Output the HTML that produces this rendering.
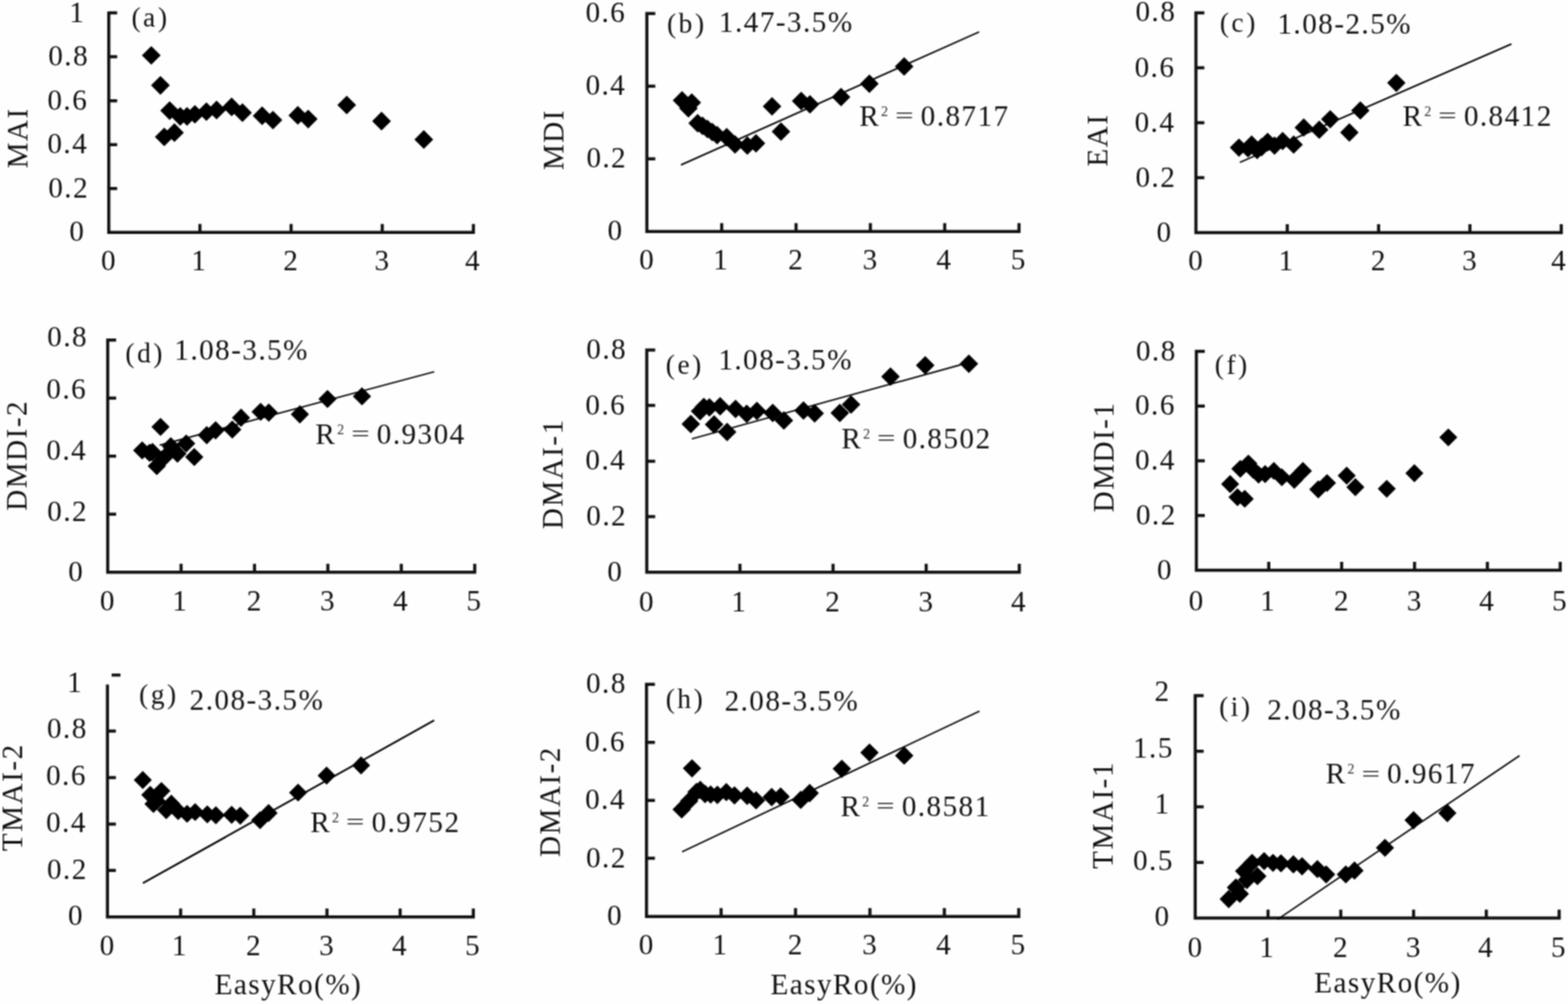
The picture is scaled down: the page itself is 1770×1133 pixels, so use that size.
<!DOCTYPE html>
<html><head><meta charset="utf-8"><title>Figure</title>
<style>html,body{margin:0;padding:0;background:#fff;}svg{display:block;}text{fill:#111;}</style></head>
<body><svg width="1770" height="1133" viewBox="0 0 1770 1133" font-family="'Liberation Serif', 'Times New Roman', serif">
<defs><filter id="soft" filterUnits="userSpaceOnUse" x="0" y="0" width="1770" height="1133" color-interpolation-filters="sRGB"><feConvolveMatrix order="3" kernelMatrix="1 2 1 2 4 2 1 2 1" divisor="16" edgeMode="duplicate"/></filter></defs>
<g filter="url(#soft)">
<rect width="1770" height="1133" fill="#fefefe"/>
<path d="M122.8 12.9V262.3H536.1M225.7 262.3V252.8M328.6 262.3V252.8M431.5 262.3V252.8M534.4 262.3V252.8M122.8 212.8H132.3M122.8 163.2H132.3M122.8 113.7H132.3M122.8 64.1H132.3M122.8 14.6H132.3" fill="none" stroke="#111" stroke-width="3.5"/>
<path d="M170.8 51.9L181.4 62.5L170.8 73.1L160.2 62.5ZM181.1 85.7L191.7 96.3L181.1 106.9L170.5 96.3ZM185.4 143.9L196.0 154.5L185.4 165.1L174.8 154.5ZM191.5 114.2L202.1 124.8L191.5 135.4L180.9 124.8ZM196.9 139.1L207.5 149.7L196.9 160.3L186.3 149.7ZM203.4 120.7L214.0 131.3L203.4 141.9L192.8 131.3ZM211.1 120.7L221.7 131.3L211.1 141.9L200.5 131.3ZM220.0 118.4L230.6 129.0L220.0 139.6L209.4 129.0ZM233.0 115.4L243.6 126.0L233.0 136.6L222.4 126.0ZM244.5 113.6L255.1 124.2L244.5 134.8L233.9 124.2ZM261.5 110.1L272.1 120.7L261.5 131.3L250.9 120.7ZM273.7 116.6L284.3 127.2L273.7 137.8L263.1 127.2ZM295.9 120.1L306.5 130.7L295.9 141.3L285.3 130.7ZM308.1 124.9L318.7 135.5L308.1 146.1L297.5 135.5ZM336.2 119.6L346.8 130.2L336.2 140.8L325.6 130.2ZM347.9 123.7L358.5 134.3L347.9 144.9L337.3 134.3ZM391.4 107.9L402.0 118.5L391.4 129.1L380.8 118.5ZM430.7 126.1L441.3 136.7L430.7 147.3L420.1 136.7ZM478.4 146.8L489.0 157.4L478.4 168.0L467.8 157.4Z" fill="#000"/>
<text x="78.3" y="272.3" font-size="33" letter-spacing="1.6">0</text>
<text x="54.5" y="222.8" font-size="33" letter-spacing="1.6">0.2</text>
<text x="53.5" y="173.2" font-size="33" letter-spacing="1.6">0.4</text>
<text x="53.5" y="123.7" font-size="33" letter-spacing="1.6">0.6</text>
<text x="54.5" y="74.1" font-size="33" letter-spacing="1.6">0.8</text>
<text x="78.3" y="24.6" font-size="33" letter-spacing="1.6">1</text>
<text x="114.0" y="304.5" font-size="33" letter-spacing="1.6">0</text>
<text x="215.9" y="304.5" font-size="33" letter-spacing="1.6">1</text>
<text x="319.8" y="304.5" font-size="33" letter-spacing="1.6">2</text>
<text x="422.7" y="304.5" font-size="33" letter-spacing="1.6">3</text>
<text x="525.1" y="304.5" font-size="33" letter-spacing="1.6">4</text>
<text x="148.5" y="30.1" font-size="31" letter-spacing="2.8">(a)</text>
<text transform="translate(31.0,156.6) rotate(-90)" x="-33.5" y="0" font-size="33" letter-spacing="1.6">MAI</text>
<path d="M730.2 13.6V261.3H1152.0M814.7 261.3V251.8M898.6 261.3V251.8M982.5 261.3V251.8M1066.4 261.3V251.8M1150.3 261.3V251.8M730.2 179.3H739.7M730.2 97.3H739.7M730.2 15.3H739.7" fill="none" stroke="#111" stroke-width="3.5"/>
<path d="M768.7 186.1L1105.3 36.0" stroke="#000" stroke-width="1.7"/>
<path d="M769.9 102.8L780.4 113.3L769.9 123.8L759.4 113.3ZM780.9 105.3L791.4 115.8L780.9 126.3L770.4 115.8ZM777.1 111.7L787.6 122.2L777.1 132.7L766.6 122.2ZM787.5 128.5L798.0 139.0L787.5 149.5L777.0 139.0ZM793.0 131.5L803.5 142.0L793.0 152.5L782.5 142.0ZM798.5 135.0L809.0 145.5L798.5 156.0L788.0 145.5ZM804.0 138.5L814.5 149.0L804.0 159.5L793.5 149.0ZM809.5 142.0L820.0 152.5L809.5 163.0L799.0 152.5ZM820.3 144.3L830.8 154.8L820.3 165.3L809.8 154.8ZM829.7 152.4L840.2 162.9L829.7 173.4L819.2 162.9ZM843.6 153.7L854.1 164.2L843.6 174.7L833.1 164.2ZM853.4 151.3L863.9 161.8L853.4 172.3L842.9 161.8ZM871.5 109.6L882.0 120.1L871.5 130.6L861.0 120.1ZM881.6 138.0L892.1 148.5L881.6 159.0L871.1 148.5ZM904.4 103.5L914.9 114.0L904.4 124.5L893.9 114.0ZM914.3 107.3L924.8 117.8L914.3 128.3L903.8 117.8ZM949.4 98.9L959.9 109.4L949.4 119.9L938.9 109.4ZM981.4 84.1L991.9 94.6L981.4 105.1L970.9 94.6ZM1020.6 64.6L1031.1 75.1L1020.6 85.6L1010.1 75.1Z" fill="#000"/>
<text x="685.7" y="271.3" font-size="33" letter-spacing="1.6">0</text>
<text x="661.9" y="189.3" font-size="33" letter-spacing="1.6">0.2</text>
<text x="660.9" y="107.3" font-size="33" letter-spacing="1.6">0.4</text>
<text x="660.9" y="25.3" font-size="33" letter-spacing="1.6">0.6</text>
<text x="721.4" y="304.0" font-size="33" letter-spacing="1.6">0</text>
<text x="804.9" y="304.0" font-size="33" letter-spacing="1.6">1</text>
<text x="889.8" y="304.0" font-size="33" letter-spacing="1.6">2</text>
<text x="973.7" y="304.0" font-size="33" letter-spacing="1.6">3</text>
<text x="1057.1" y="304.0" font-size="33" letter-spacing="1.6">4</text>
<text x="1141.0" y="304.0" font-size="33" letter-spacing="1.6">5</text>
<text x="753.0" y="37.0" font-size="31" letter-spacing="2.8">(b)</text>
<text x="811.6" y="36.3" font-size="33" letter-spacing="1.6">1.47-3.5%</text>
<text x="970.1" y="141.6" font-size="33" letter-spacing="1.6">R</text>
<text x="994.6" y="130.6" font-size="16" style="fill:#333">2</text>
<text transform="translate(1010.4,130.1) scale(1.12,0.75)" x="0" y="11.5" font-size="33">=</text>
<text x="1039.3" y="141.6" font-size="33" letter-spacing="1.6">0.8717</text>
<text transform="translate(636.3,158.6) rotate(-90)" x="-33.5" y="0" font-size="33" letter-spacing="1.6">MDI</text>
<path d="M1350.0 12.7V262.6H1764.2M1453.1 262.6V253.1M1556.2 262.6V253.1M1659.3 262.6V253.1M1762.4 262.6V253.1M1350.0 200.6H1359.5M1350.0 138.5H1359.5M1350.0 76.5H1359.5M1350.0 14.4H1359.5" fill="none" stroke="#111" stroke-width="3.5"/>
<path d="M1399.6 183.3L1706.2 49.6" stroke="#000" stroke-width="1.7"/>
<path d="M1398.6 156.2L1409.0 166.6L1398.6 177.0L1388.2 166.6ZM1408.8 157.0L1419.2 167.4L1408.8 177.8L1398.4 167.4ZM1412.9 152.8L1423.3 163.2L1412.9 173.6L1402.5 163.2ZM1419.1 158.9L1429.5 169.3L1419.1 179.7L1408.7 169.3ZM1424.2 155.6L1434.6 166.0L1424.2 176.4L1413.8 166.0ZM1430.9 149.7L1441.3 160.1L1430.9 170.5L1420.5 160.1ZM1438.7 153.9L1449.1 164.3L1438.7 174.7L1428.3 164.3ZM1447.9 148.8L1458.3 159.2L1447.9 169.6L1437.5 159.2ZM1460.3 152.8L1470.7 163.2L1460.3 173.6L1449.9 163.2ZM1471.7 133.5L1482.1 143.9L1471.7 154.3L1461.3 143.9ZM1489.2 136.0L1499.6 146.4L1489.2 156.8L1478.8 146.4ZM1501.6 124.2L1512.0 134.6L1501.6 145.0L1491.2 134.6ZM1523.2 139.1L1533.6 149.5L1523.2 159.9L1512.8 149.5ZM1535.6 114.3L1546.0 124.7L1535.6 135.1L1525.2 124.7ZM1576.2 83.2L1586.6 93.6L1576.2 104.0L1565.8 93.6Z" fill="#000"/>
<text x="1305.5" y="272.6" font-size="33" letter-spacing="1.6">0</text>
<text x="1281.7" y="210.6" font-size="33" letter-spacing="1.6">0.2</text>
<text x="1280.7" y="148.5" font-size="33" letter-spacing="1.6">0.4</text>
<text x="1280.7" y="86.5" font-size="33" letter-spacing="1.6">0.6</text>
<text x="1281.7" y="24.4" font-size="33" letter-spacing="1.6">0.8</text>
<text x="1341.2" y="304.5" font-size="33" letter-spacing="1.6">0</text>
<text x="1443.3" y="304.5" font-size="33" letter-spacing="1.6">1</text>
<text x="1547.4" y="304.5" font-size="33" letter-spacing="1.6">2</text>
<text x="1650.5" y="304.5" font-size="33" letter-spacing="1.6">3</text>
<text x="1750.9" y="304.5" font-size="33" letter-spacing="1.6">4</text>
<text x="1377.0" y="36.2" font-size="31" letter-spacing="2.8">(c)</text>
<text x="1442.0" y="38.0" font-size="33" letter-spacing="1.6">1.08-2.5%</text>
<text x="1583.2" y="141.6" font-size="33" letter-spacing="1.6">R</text>
<text x="1607.7" y="130.6" font-size="16" style="fill:#333">2</text>
<text transform="translate(1623.5,130.1) scale(1.12,0.75)" x="0" y="11.5" font-size="33">=</text>
<text x="1652.4" y="141.6" font-size="33" letter-spacing="1.6">0.8412</text>
<text transform="translate(1250.3,159.0) rotate(-90)" x="-29.0" y="0" font-size="33" letter-spacing="1.6">EAI</text>
<path d="M121.6 382.0V645.8H537.6M204.4 645.8V636.3M287.3 645.8V636.3M370.1 645.8V636.3M453.0 645.8V636.3M535.9 645.8V636.3M121.6 580.3H131.1M121.6 514.8H131.1M121.6 449.3H131.1M121.6 383.8H131.1" fill="none" stroke="#111" stroke-width="3.5"/>
<path d="M180.3 502.4L490.2 419.5" stroke="#000" stroke-width="1.7"/>
<path d="M160.5 497.9L170.8 508.2L160.5 518.5L150.2 508.2ZM168.8 500.7L179.1 511.0L168.8 521.3L158.5 511.0ZM172.1 499.7L182.4 510.0L172.1 520.3L161.8 510.0ZM177.0 515.6L187.3 525.9L177.0 536.2L166.7 525.9ZM181.2 471.5L191.5 481.8L181.2 492.1L170.9 481.8ZM186.6 504.7L196.9 515.0L186.6 525.3L176.3 515.0ZM192.8 493.2L203.1 503.5L192.8 513.8L182.5 503.5ZM200.3 501.6L210.6 511.9L200.3 522.2L190.0 511.9ZM210.2 490.2L220.5 500.5L210.2 510.8L199.9 500.5ZM219.3 505.4L229.6 515.7L219.3 526.0L209.0 515.7ZM233.4 480.8L243.7 491.1L233.4 501.4L223.1 491.1ZM243.4 475.3L253.7 485.6L243.4 495.9L233.1 485.6ZM262.2 474.4L272.5 484.7L262.2 495.0L251.9 484.7ZM272.1 461.1L282.4 471.4L272.1 481.7L261.8 471.4ZM294.2 454.5L304.5 464.8L294.2 475.1L283.9 464.8ZM303.4 455.3L313.7 465.6L303.4 475.9L293.1 465.6ZM338.5 457.3L348.8 467.6L338.5 477.9L328.2 467.6ZM369.7 440.0L380.0 450.3L369.7 460.6L359.4 450.3ZM408.6 437.0L418.9 447.3L408.6 457.6L398.3 447.3Z" fill="#000"/>
<text x="77.1" y="655.6" font-size="33" letter-spacing="1.6">0</text>
<text x="53.3" y="588.3" font-size="33" letter-spacing="1.6">0.2</text>
<text x="52.3" y="518.5" font-size="33" letter-spacing="1.6">0.4</text>
<text x="52.3" y="449.9" font-size="33" letter-spacing="1.6">0.6</text>
<text x="53.3" y="390.9" font-size="33" letter-spacing="1.6">0.8</text>
<text x="112.8" y="688.7" font-size="33" letter-spacing="1.6">0</text>
<text x="194.6" y="688.7" font-size="33" letter-spacing="1.6">1</text>
<text x="278.5" y="688.7" font-size="33" letter-spacing="1.6">2</text>
<text x="361.3" y="688.7" font-size="33" letter-spacing="1.6">3</text>
<text x="443.7" y="688.7" font-size="33" letter-spacing="1.6">4</text>
<text x="526.6" y="688.7" font-size="33" letter-spacing="1.6">5</text>
<text x="141.6" y="409.3" font-size="31" letter-spacing="2.8">(d)</text>
<text x="196.8" y="405.5" font-size="33" letter-spacing="1.6">1.08-3.5%</text>
<text x="356.1" y="500.8" font-size="33" letter-spacing="1.6">R</text>
<text x="380.6" y="489.8" font-size="16" style="fill:#333">2</text>
<text transform="translate(396.4,489.3) scale(1.12,0.75)" x="0" y="11.5" font-size="33">=</text>
<text x="425.3" y="500.8" font-size="33" letter-spacing="1.6">0.9304</text>
<text transform="translate(30.2,515.0) rotate(-90)" x="-61.5" y="0" font-size="33" letter-spacing="1.6">DMDI-2</text>
<path d="M730.1 393.2V645.8H1152.3M835.3 645.8V636.3M940.4 645.8V636.3M1045.5 645.8V636.3M1150.6 645.8V636.3M730.1 583.1H739.6M730.1 520.4H739.6M730.1 457.6H739.6M730.1 394.9H739.6" fill="none" stroke="#111" stroke-width="3.5"/>
<path d="M781.0 495.3L1084.5 411.6" stroke="#000" stroke-width="1.7"/>
<path d="M779.8 467.9L790.3 478.4L779.8 488.9L769.3 478.4ZM790.3 453.5L800.8 464.0L790.3 474.5L779.8 464.0ZM794.5 448.7L805.0 459.2L794.5 469.7L784.0 459.2ZM800.8 449.3L811.3 459.8L800.8 470.3L790.3 459.8ZM806.1 468.5L816.6 479.0L806.1 489.5L795.6 479.0ZM812.9 448.1L823.4 458.6L812.9 469.1L802.4 458.6ZM820.8 477.0L831.3 487.5L820.8 498.0L810.3 487.5ZM830.3 451.0L840.8 461.5L830.3 472.0L819.8 461.5ZM842.9 456.6L853.4 467.1L842.9 477.6L832.4 467.1ZM854.4 453.2L864.9 463.7L854.4 474.2L843.9 463.7ZM872.3 455.5L882.8 466.0L872.3 476.5L861.8 466.0ZM884.9 464.0L895.4 474.5L884.9 485.0L874.4 474.5ZM907.0 452.7L917.5 463.2L907.0 473.7L896.5 463.2ZM919.6 456.1L930.1 466.6L919.6 477.1L909.1 466.6ZM948.0 455.5L958.5 466.0L948.0 476.5L937.5 466.0ZM960.7 446.1L971.2 456.6L960.7 467.1L950.2 456.6ZM1005.2 414.5L1015.7 425.0L1005.2 435.5L994.7 425.0ZM1044.4 401.7L1054.9 412.2L1044.4 422.7L1033.9 412.2ZM1093.7 400.1L1104.2 410.6L1093.7 421.1L1083.2 410.6Z" fill="#000"/>
<text x="685.6" y="655.8" font-size="33" letter-spacing="1.6">0</text>
<text x="661.8" y="593.1" font-size="33" letter-spacing="1.6">0.2</text>
<text x="660.8" y="530.4" font-size="33" letter-spacing="1.6">0.4</text>
<text x="660.8" y="467.6" font-size="33" letter-spacing="1.6">0.6</text>
<text x="661.8" y="404.9" font-size="33" letter-spacing="1.6">0.8</text>
<text x="721.3" y="689.5" font-size="33" letter-spacing="1.6">0</text>
<text x="825.5" y="689.5" font-size="33" letter-spacing="1.6">1</text>
<text x="931.6" y="689.5" font-size="33" letter-spacing="1.6">2</text>
<text x="1036.7" y="689.5" font-size="33" letter-spacing="1.6">3</text>
<text x="1141.3" y="689.5" font-size="33" letter-spacing="1.6">4</text>
<text x="751.6" y="421.8" font-size="31" letter-spacing="2.8">(e)</text>
<text x="810.9" y="416.9" font-size="33" letter-spacing="1.6">1.08-3.5%</text>
<text x="949.7" y="506.3" font-size="33" letter-spacing="1.6">R</text>
<text x="974.2" y="495.3" font-size="16" style="fill:#333">2</text>
<text transform="translate(990.0,494.8) scale(1.12,0.75)" x="0" y="11.5" font-size="33">=</text>
<text x="1018.9" y="506.3" font-size="33" letter-spacing="1.6">0.8502</text>
<text transform="translate(634.6,535.8) rotate(-90)" x="-61.5" y="0" font-size="33" letter-spacing="1.6">DMAI-1</text>
<path d="M1350.5 394.8V643.6H1763.0M1432.2 643.6V634.1M1514.5 643.6V634.1M1596.8 643.6V634.1M1679.0 643.6V634.1M1761.2 643.6V634.1M1350.5 581.7H1360.0M1350.5 520.0H1360.0M1350.5 458.3H1360.0M1350.5 396.6H1360.0" fill="none" stroke="#111" stroke-width="3.5"/>
<path d="M1388.6 536.1L1398.8 546.3L1388.6 556.5L1378.4 546.3ZM1396.9 550.9L1407.1 561.1L1396.9 571.3L1386.7 561.1ZM1400.1 518.9L1410.3 529.1L1400.1 539.3L1389.9 529.1ZM1405.1 552.7L1415.3 562.9L1405.1 573.1L1394.9 562.9ZM1409.2 512.9L1419.4 523.1L1409.2 533.3L1399.0 523.1ZM1414.5 519.8L1424.7 530.0L1414.5 540.2L1404.3 530.0ZM1420.7 525.4L1430.9 535.6L1420.7 545.8L1410.5 535.6ZM1428.1 524.8L1438.3 535.0L1428.1 545.2L1417.9 535.0ZM1438.0 521.2L1448.2 531.4L1438.0 541.6L1427.8 531.4ZM1447.0 528.4L1457.2 538.6L1447.0 548.8L1436.8 538.6ZM1461.0 531.3L1471.2 541.5L1461.0 551.7L1450.8 541.5ZM1470.8 521.2L1481.0 531.4L1470.8 541.6L1460.6 531.4ZM1488.1 542.0L1498.3 552.2L1488.1 562.4L1477.9 552.2ZM1498.0 534.9L1508.2 545.1L1498.0 555.3L1487.8 545.1ZM1520.2 526.6L1530.4 536.8L1520.2 547.0L1510.0 536.8ZM1530.0 539.6L1540.2 549.8L1530.0 560.0L1519.8 549.8ZM1565.4 541.4L1575.6 551.6L1565.4 561.8L1555.2 551.6ZM1596.6 523.8L1606.8 534.0L1596.6 544.2L1586.4 534.0ZM1634.9 483.4L1645.1 493.6L1634.9 503.8L1624.7 493.6Z" fill="#000"/>
<text x="1306.0" y="653.6" font-size="33" letter-spacing="1.6">0</text>
<text x="1282.2" y="591.7" font-size="33" letter-spacing="1.6">0.2</text>
<text x="1281.2" y="530.0" font-size="33" letter-spacing="1.6">0.4</text>
<text x="1281.2" y="468.3" font-size="33" letter-spacing="1.6">0.6</text>
<text x="1282.2" y="406.6" font-size="33" letter-spacing="1.6">0.8</text>
<text x="1341.7" y="689.0" font-size="33" letter-spacing="1.6">0</text>
<text x="1422.5" y="689.0" font-size="33" letter-spacing="1.6">1</text>
<text x="1505.7" y="689.0" font-size="33" letter-spacing="1.6">2</text>
<text x="1588.0" y="689.0" font-size="33" letter-spacing="1.6">3</text>
<text x="1669.7" y="689.0" font-size="33" letter-spacing="1.6">4</text>
<text x="1752.0" y="689.0" font-size="33" letter-spacing="1.6">5</text>
<text x="1371.3" y="422.0" font-size="31" letter-spacing="2.8">(f)</text>
<text transform="translate(1257.1,516.8) rotate(-90)" x="-61.5" y="0" font-size="33" letter-spacing="1.6">DMDI-1</text>
<path d="M121.3 772.5V1034.8H536.0M203.9 1034.8V1025.3M286.5 1034.8V1025.3M369.1 1034.8V1025.3M451.7 1034.8V1025.3M534.3 1034.8V1025.3M121.3 982.3H130.8M121.3 929.9H130.8M121.3 877.4H130.8M121.3 825.0H130.8" fill="none" stroke="#111" stroke-width="3.5"/>
<path d="M126 761.8H136" stroke="#111" stroke-width="3.4"/>
<path d="M161.3 996.7L490.1 812.8" stroke="#000" stroke-width="2.1"/>
<path d="M161.2 870.1L171.4 880.3L161.2 890.5L151.0 880.3ZM169.6 886.8L179.8 897.0L169.6 907.2L159.4 897.0ZM173.2 897.0L183.4 907.2L173.2 917.4L163.0 907.2ZM177.0 893.8L187.2 904.0L177.0 914.2L166.8 904.0ZM182.2 882.4L192.4 892.6L182.2 902.8L172.0 892.6ZM187.7 904.1L197.9 914.3L187.7 924.5L177.5 914.3ZM193.4 896.7L203.6 906.9L193.4 917.1L183.2 906.9ZM201.1 905.1L211.3 915.3L201.1 925.5L190.9 915.3ZM211.2 908.2L221.4 918.4L211.2 928.6L201.0 918.4ZM220.3 906.2L230.5 916.4L220.3 926.6L210.1 916.4ZM234.0 908.8L244.2 919.0L234.0 929.2L223.8 919.0ZM243.7 909.8L253.9 920.0L243.7 930.2L233.5 920.0ZM261.5 909.3L271.7 919.5L261.5 929.7L251.3 919.5ZM271.2 910.3L281.4 920.5L271.2 930.7L261.0 920.5ZM293.6 915.4L303.8 925.6L293.6 935.8L283.4 925.6ZM303.2 907.3L313.4 917.5L303.2 927.7L293.0 917.5ZM336.5 884.2L346.7 894.4L336.5 904.6L326.3 894.4ZM368.7 865.1L378.9 875.3L368.7 885.5L358.5 875.3ZM407.6 853.6L417.8 863.8L407.6 874.0L397.4 863.8Z" fill="#000"/>
<text x="76.8" y="1044.0" font-size="33" letter-spacing="1.6">0</text>
<text x="53.0" y="991.5" font-size="33" letter-spacing="1.6">0.2</text>
<text x="52.0" y="938.7" font-size="33" letter-spacing="1.6">0.4</text>
<text x="52.0" y="886.1" font-size="33" letter-spacing="1.6">0.6</text>
<text x="53.0" y="832.7" font-size="33" letter-spacing="1.6">0.8</text>
<text x="75.8" y="780.5" font-size="33" letter-spacing="1.6">1</text>
<text x="112.5" y="1077.7" font-size="33" letter-spacing="1.6">0</text>
<text x="194.1" y="1077.7" font-size="33" letter-spacing="1.6">1</text>
<text x="277.7" y="1077.7" font-size="33" letter-spacing="1.6">2</text>
<text x="360.3" y="1077.7" font-size="33" letter-spacing="1.6">3</text>
<text x="442.4" y="1077.7" font-size="33" letter-spacing="1.6">4</text>
<text x="525.0" y="1077.7" font-size="33" letter-spacing="1.6">5</text>
<text x="157.1" y="794.0" font-size="31" letter-spacing="2.8">(g)</text>
<text x="214.1" y="800.7" font-size="33" letter-spacing="1.6">2.08-3.5%</text>
<text x="350.2" y="939.3" font-size="33" letter-spacing="1.6">R</text>
<text x="374.7" y="928.3" font-size="16" style="fill:#333">2</text>
<text transform="translate(390.5,927.8) scale(1.12,0.75)" x="0" y="11.5" font-size="33">=</text>
<text x="419.4" y="939.3" font-size="33" letter-spacing="1.6">0.9752</text>
<text transform="translate(24.5,901.4) rotate(-90)" x="-59.0" y="0" font-size="33" letter-spacing="1.6">TMAI-2</text>
<path d="M729.8 770.5V1034.2H1151.8M814.0 1034.2V1024.7M898.0 1034.2V1024.7M982.0 1034.2V1024.7M1066.0 1034.2V1024.7M1150.0 1034.2V1024.7M729.8 968.6H739.3M729.8 903.2H739.3M729.8 837.7H739.3M729.8 772.3H739.3" fill="none" stroke="#111" stroke-width="3.5"/>
<path d="M770.0 961.3L1105.7 802.4" stroke="#000" stroke-width="1.7"/>
<path d="M769.5 903.0L779.9 913.4L769.5 923.8L759.1 913.4ZM777.9 893.5L788.3 903.9L777.9 914.3L767.5 903.9ZM781.2 856.7L791.6 867.1L781.2 877.5L770.8 867.1ZM786.3 883.3L796.7 893.7L786.3 904.1L775.9 893.7ZM790.5 881.0L800.9 891.4L790.5 901.8L780.1 891.4ZM795.9 885.6L806.3 896.0L795.9 906.4L785.5 896.0ZM802.2 886.2L812.6 896.6L802.2 907.0L791.8 896.6ZM809.8 886.6L820.2 897.0L809.8 907.4L799.4 897.0ZM819.9 883.5L830.3 893.9L819.9 904.3L809.5 893.9ZM829.1 887.2L839.5 897.6L829.1 908.0L818.7 897.6ZM843.4 887.6L853.8 898.0L843.4 908.4L833.0 898.0ZM853.5 892.8L863.9 903.2L853.5 913.6L843.1 903.2ZM871.1 889.1L881.5 899.5L871.1 909.9L860.7 899.5ZM881.2 888.6L891.6 899.0L881.2 909.4L870.8 899.0ZM903.9 892.3L914.3 902.7L903.9 913.1L893.5 902.7ZM914.0 884.6L924.4 895.0L914.0 905.4L903.6 895.0ZM950.3 857.2L960.7 867.6L950.3 878.0L939.9 867.6ZM981.5 838.9L991.9 849.3L981.5 859.7L971.1 849.3ZM1020.7 842.3L1031.1 852.7L1020.7 863.1L1010.3 852.7Z" fill="#000"/>
<text x="685.3" y="1044.2" font-size="33" letter-spacing="1.6">0</text>
<text x="661.5" y="978.6" font-size="33" letter-spacing="1.6">0.2</text>
<text x="660.5" y="913.2" font-size="33" letter-spacing="1.6">0.4</text>
<text x="660.5" y="847.7" font-size="33" letter-spacing="1.6">0.6</text>
<text x="661.5" y="782.3" font-size="33" letter-spacing="1.6">0.8</text>
<text x="721.0" y="1077.3" font-size="33" letter-spacing="1.6">0</text>
<text x="804.2" y="1077.3" font-size="33" letter-spacing="1.6">1</text>
<text x="889.2" y="1077.3" font-size="33" letter-spacing="1.6">2</text>
<text x="973.2" y="1077.3" font-size="33" letter-spacing="1.6">3</text>
<text x="1056.7" y="1077.3" font-size="33" letter-spacing="1.6">4</text>
<text x="1140.7" y="1077.3" font-size="33" letter-spacing="1.6">5</text>
<text x="751.5" y="799.0" font-size="31" letter-spacing="2.8">(h)</text>
<text x="817.9" y="801.5" font-size="33" letter-spacing="1.6">2.08-3.5%</text>
<text x="948.7" y="921.3" font-size="33" letter-spacing="1.6">R</text>
<text x="973.2" y="910.3" font-size="16" style="fill:#333">2</text>
<text transform="translate(989.0,909.8) scale(1.12,0.75)" x="0" y="11.5" font-size="33">=</text>
<text x="1017.9" y="921.3" font-size="33" letter-spacing="1.6">0.8581</text>
<text transform="translate(632.3,905.7) rotate(-90)" x="-61.5" y="0" font-size="33" letter-spacing="1.6">DMAI-2</text>
<path d="M1349.2 783.3V1036.0H1761.8M1431.4 1036.0V1026.5M1513.5 1036.0V1026.5M1595.7 1036.0V1026.5M1677.8 1036.0V1026.5M1760.0 1036.0V1026.5M1349.2 973.3H1358.7M1349.2 910.5H1358.7M1349.2 847.8H1358.7M1349.2 785.1H1358.7" fill="none" stroke="#111" stroke-width="3.5"/>
<path d="M1442.0 1037.6L1715.3 852.7" stroke="#000" stroke-width="1.7"/>
<path d="M1387.0 1004.3L1397.3 1014.6L1387.0 1024.9L1376.7 1014.6ZM1395.1 991.3L1405.4 1001.6L1395.1 1011.9L1384.8 1001.6ZM1399.6 998.4L1409.9 1008.7L1399.6 1019.0L1389.3 1008.7ZM1404.4 972.8L1414.7 983.1L1404.4 993.4L1394.1 983.1ZM1407.5 982.8L1417.8 993.1L1407.5 1003.4L1397.2 993.1ZM1413.4 963.5L1423.7 973.8L1413.4 984.1L1403.1 973.8ZM1419.4 978.5L1429.7 988.8L1419.4 999.1L1409.1 988.8ZM1427.0 961.5L1437.3 971.8L1427.0 982.1L1416.7 971.8ZM1437.0 963.5L1447.3 973.8L1437.0 984.1L1426.7 973.8ZM1446.0 964.0L1456.3 974.3L1446.0 984.6L1435.7 974.3ZM1460.0 965.1L1470.3 975.4L1460.0 985.7L1449.7 975.4ZM1469.8 967.3L1480.1 977.6L1469.8 987.9L1459.5 977.6ZM1487.1 970.5L1497.4 980.8L1487.1 991.1L1476.8 980.8ZM1497.0 976.4L1507.3 986.7L1497.0 997.0L1486.7 986.7ZM1519.2 976.4L1529.5 986.7L1519.2 997.0L1508.9 986.7ZM1529.0 972.1L1539.3 982.4L1529.0 992.7L1518.7 982.4ZM1563.4 946.5L1573.7 956.8L1563.4 967.1L1553.1 956.8ZM1595.7 915.3L1606.0 925.6L1595.7 935.9L1585.4 925.6ZM1633.8 907.3L1644.1 917.6L1633.8 927.9L1623.5 917.6Z" fill="#000"/>
<text x="1303.2" y="1044.7" font-size="33" letter-spacing="1.6">0</text>
<text x="1279.0" y="982.0" font-size="33" letter-spacing="1.6">0.5</text>
<text x="1303.2" y="918.0" font-size="33" letter-spacing="1.6">1</text>
<text x="1279.0" y="855.4" font-size="33" letter-spacing="1.6">1.5</text>
<text x="1303.2" y="790.8" font-size="33" letter-spacing="1.6">2</text>
<text x="1340.4" y="1079.5" font-size="33" letter-spacing="1.6">0</text>
<text x="1421.6" y="1079.5" font-size="33" letter-spacing="1.6">1</text>
<text x="1504.7" y="1079.5" font-size="33" letter-spacing="1.6">2</text>
<text x="1586.9" y="1079.5" font-size="33" letter-spacing="1.6">3</text>
<text x="1668.5" y="1079.5" font-size="33" letter-spacing="1.6">4</text>
<text x="1750.7" y="1079.5" font-size="33" letter-spacing="1.6">5</text>
<text x="1376.2" y="808.0" font-size="31" letter-spacing="2.8">(i)</text>
<text x="1430.4" y="811.5" font-size="33" letter-spacing="1.6">2.08-3.5%</text>
<text x="1496.6" y="884.4" font-size="33" letter-spacing="1.6">R</text>
<text x="1521.1" y="873.4" font-size="16" style="fill:#333">2</text>
<text transform="translate(1536.9,872.9) scale(1.12,0.75)" x="0" y="11.5" font-size="33">=</text>
<text x="1565.8" y="884.4" font-size="33" letter-spacing="1.6">0.9617</text>
<text transform="translate(1255.7,921.4) rotate(-90)" x="-59.0" y="0" font-size="33" letter-spacing="1.6">TMAI-1</text>
<text x="242.3" y="1122.2" font-size="33" letter-spacing="1.6">EasyRo(%)</text>
<text x="869.7" y="1122.3" font-size="33" letter-spacing="1.6">EasyRo(%)</text>
<text x="1483.5" y="1120.2" font-size="33" letter-spacing="1.6">EasyRo(%)</text>
</g>
</svg></body></html>
